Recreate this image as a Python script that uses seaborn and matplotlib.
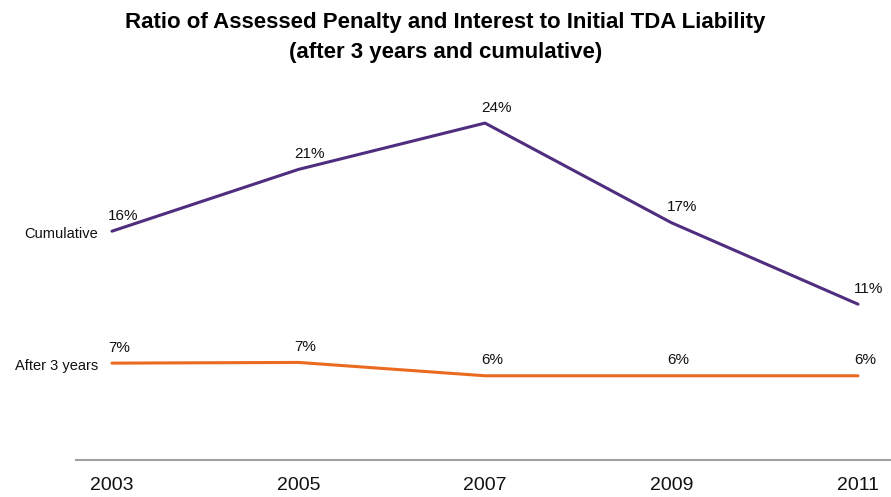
import matplotlib
matplotlib.use("Agg")
import matplotlib.pyplot as plt
import pandas as pd
import seaborn as sns

years = ["2003", "2005", "2007", "2009", "2011"]
cumulative = [16.3, 20.7, 24.0, 16.9, 11.1]
after_3_years = [6.9, 6.95, 6.0, 6.0, 6.0]
series_names = ["Cumulative", "After 3 years"]
title = "Ratio of Assessed Penalty and Interest to Initial TDA Liability\n(after 3 years and cumulative)"

sns.set_style("white")
plt.rcParams["font.family"] = ["Liberation Sans", "DejaVu Sans"]

df = pd.DataFrame({"year": years, "Cumulative": cumulative, "After 3 years": after_3_years})
long_df = df.melt(id_vars="year", var_name="series", value_name="pct")
long_df["x"] = long_df["year"].map({y: i for i, y in enumerate(years)})

colors = {"Cumulative": "#4f2d7f", "After 3 years": "#ea6b1f"}

fig = plt.figure(figsize=(8.91, 4.97), dpi=100)
ax = fig.add_axes([76 / 891, 37 / 497, 815 / 891, 365 / 497])

sns.lineplot(data=long_df, x="x", y="pct", hue="series", palette=colors,
             linewidth=2.2, legend=False, ax=ax)

for name in series_names:
    vals = df[name]
    for i, v in enumerate(vals):
        ax.annotate(f"{v:.0f}%", (i, v), xytext=(-3, 6), textcoords="offset points",
                    ha="left", va="bottom", fontsize=11, color="#111111")
    ax.annotate(name, (0, vals.iloc[0]), xytext=(-10, -2), textcoords="offset points",
                ha="right", va="center", fontsize=10.5, color="#111111",
                annotation_clip=False)

ax.set_xlim(-0.193, 4.177)
ax.set_ylim(0, 26)
ax.set_xticks(range(len(years)))
ax.set_xticklabels(years, fontsize=14)
ax.set_yticks([])
ax.set_xlabel("")
ax.set_ylabel("")
ax.tick_params(axis="x", length=0, pad=12, colors="#111111")
for side in ["top", "right", "left"]:
    ax.spines[side].set_visible(False)
ax.spines["bottom"].set_color("#a0a0a0")
ax.spines["bottom"].set_linewidth(1.5)

fig.suptitle(title, fontsize=16, fontweight="bold", y=0.975, linespacing=1.55,
             color="black")

fig.savefig("out.png", dpi=100)
